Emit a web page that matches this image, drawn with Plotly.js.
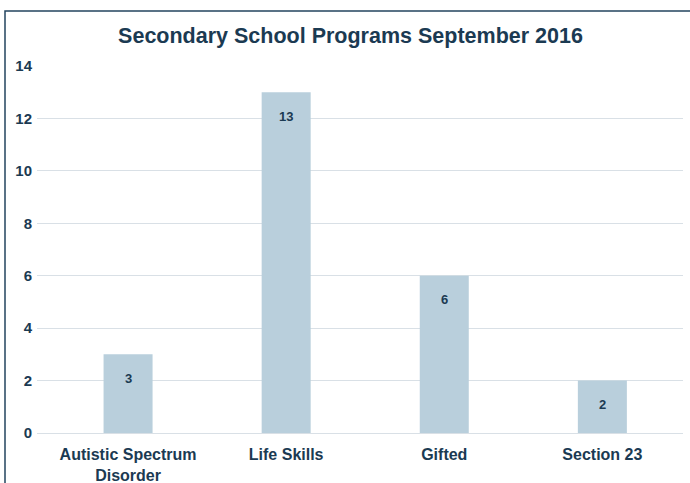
<!DOCTYPE html>
<html>
<head>
<meta charset="utf-8">
<script src="https://cdn.plot.ly/plotly-3.0.1.min.js"></script>
<style>
html,body{margin:0;padding:0;background:#fff;}
#chart{width:690px;height:483px;}
</style>
</head>
<body>
<div id="chart"></div>
<script>
const categories = ["Autistic Spectrum<br>Disorder", "Life Skills", "Gifted", "Section 23"];
const values = [3, 13, 6, 2];
const yTicks = [0, 2, 4, 6, 8, 10, 12, 14];
const chartTitle = "Secondary School Programs September 2016";

const textColor = "#1b3a52";
const fontFam = "Liberation Sans, Arial, sans-serif";

const W = 690, H = 483, L = 37, R = 7, T = 66, B = 50;
const pw = W - L - R, ph = H - T - B;
const px = v => (v - L) / pw;
const py = v => (H - B - v) / ph;

const trace = {
  type: "bar",
  x: categories,
  y: values,
  width: 0.31,
  marker: {color: "#b9cfdc"},
  hoverinfo: "none"
};

const annotations = categories.map((c, i) => ({
  x: c, y: values[i], xref: "x", yref: "y",
  text: String(values[i]), showarrow: false,
  yanchor: "middle", yshift: -24,
  font: {family: fontFam, size: 13, color: textColor, weight: "bold"}
}));

const layout = {
  width: W, height: H,
  margin: {l: L, r: R, t: T, b: B, pad: 0},
  paper_bgcolor: "#fff", plot_bgcolor: "#fff",
  showlegend: false,
  title: {
    text: "<b>" + chartTitle + "</b>",
    x: 0.508, xanchor: "center", y: 1 - 35 / H, yanchor: "middle",
    font: {family: fontFam, size: 21.5, color: textColor}
  },
  xaxis: {
    range: [-0.576, 3.51],
    showgrid: false, zeroline: false, showline: false,
    ticks: "", ticklabelstandoff: 10,
    tickfont: {family: fontFam, size: 16, color: textColor, weight: "bold"},
    fixedrange: true
  },
  yaxis: {
    range: [0, 14], tickvals: yTicks, ticktext: yTicks.map(String),
    showgrid: true, gridcolor: "#d9e0e6", gridwidth: 1,
    zeroline: true, zerolinecolor: "#d9e0e6", zerolinewidth: 1,
    showline: false, ticks: "", ticklabelstandoff: 4,
    tickfont: {family: fontFam, size: 15, color: textColor, weight: "bold"},
    fixedrange: true
  },
  annotations: annotations,
  shapes: [{
    type: "rect", xref: "paper", yref: "paper", layer: "above",
    x0: px(5), x1: px(700), y0: py(495), y1: py(11),
    line: {color: "#23445f", width: 1.5}, fillcolor: "rgba(0,0,0,0)"
  }]
};

Plotly.newPlot("chart", [trace], layout, {displayModeBar: false, staticPlot: true});
</script>
</body>
</html>
